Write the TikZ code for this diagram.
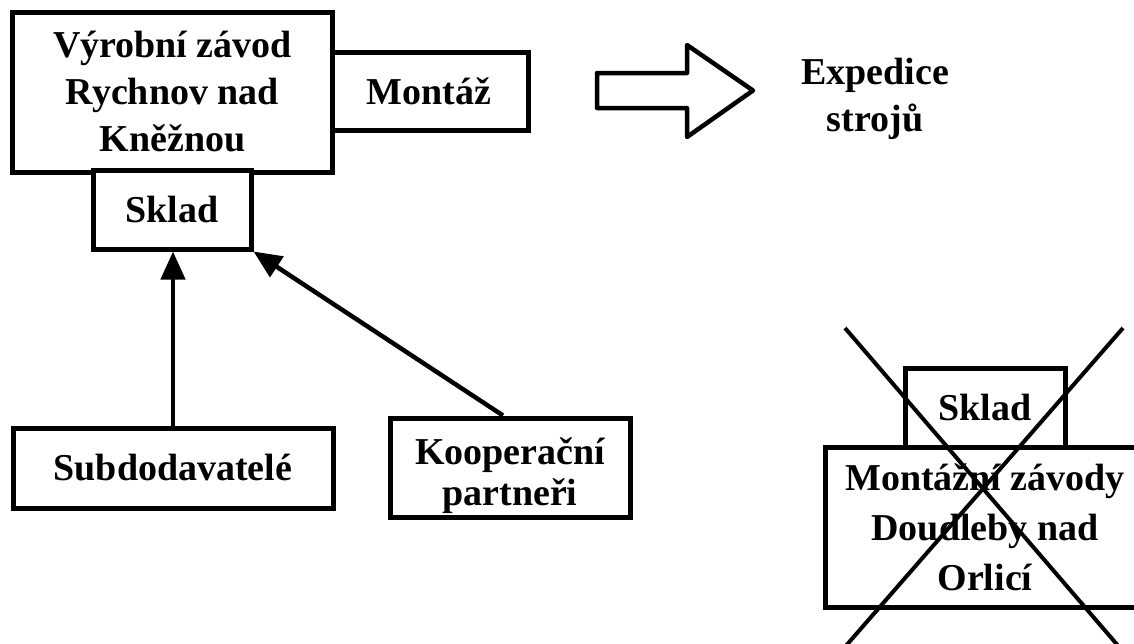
\documentclass[tikz,border=0pt]{standalone}
\usepackage{fontspec}
\setmainfont{Liberation Serif}
\usetikzlibrary{arrows.meta}
\begin{document}
\begin{tikzpicture}[x=1pt,y=-1pt,
  box/.style={draw=black,line width=5pt,fill=white,rectangle,inner sep=0pt,align=center,
    font=\fontsize{38}{47}\selectfont\bfseries},
  lbl/.style={inner sep=0pt,align=center,font=\fontsize{38}{47}\selectfont\bfseries},
  conn/.style={line width=4.5pt,-{Triangle[length=28pt,width=24pt]}},
  crossline/.style={line width=4pt},
  blockarrow/.style={draw=black,line width=4.5pt,line join=round,fill=white}]
\useasboundingbox (0,0) rectangle (1134,643);
\clip (0,0) rectangle (1134,643);
\fill[white] (0,0) rectangle (1134,643);
% top left group
\node[box,minimum width=198pt,minimum height=78pt] (montaz) at (429,91) {Montáž};
\node[box,minimum width=320pt,minimum height=160pt] (main) at (172.5,92) {Výrobní závod\\Rychnov nad\\Kněžnou};
\node[box,minimum width=158pt,minimum height=79pt] (sklad) at (172,209.5) {Sklad};
% block arrow and label
\draw[blockarrow] (597,73) -- (687,73) -- (687,45) -- (753,90.5) -- (687,137) -- (687,108) -- (597,108) -- cycle;
\node[lbl] (exped) at (875,99) {Expedice\\strojů};
% suppliers
\node[box,minimum width=320pt,minimum height=80pt] (sub) at (173,468) {Subdodavatelé};
\node[box,minimum width=240pt,minimum height=99pt,font=\fontsize{38}{42}\selectfont\bfseries] (koop) at (510,467.5)
  {\raisebox{-9pt}[\height][\depth]{\begin{tabular}{@{}c@{}}Kooperační\\[-1pt]partneři\end{tabular}}};
\draw[conn] (sub.north) -- (sklad.south -| sub.north);
\draw[conn] ([xshift=-7pt]koop.north) -- (sklad.south east);
% crossed out plant
\node[box,minimum width=160pt,minimum height=79pt] (skladr) at (985,407.5) {Sklad};
\node[box,minimum width=320pt,minimum height=160pt,font=\fontsize{38}{50}\selectfont\bfseries] (dou) at (985,527) {Montážní závody\\Doudleby nad\\Orlicí};
\coordinate (c1a) at (845,328);
\coordinate (c1b) at (1120,648);
\coordinate (c2a) at (1123,328);
\coordinate (c2b) at (844,648);
\draw[crossline] (c1a) -- (c1b);
\draw[crossline] (c2a) -- (c2b);
\end{tikzpicture}
\end{document}
